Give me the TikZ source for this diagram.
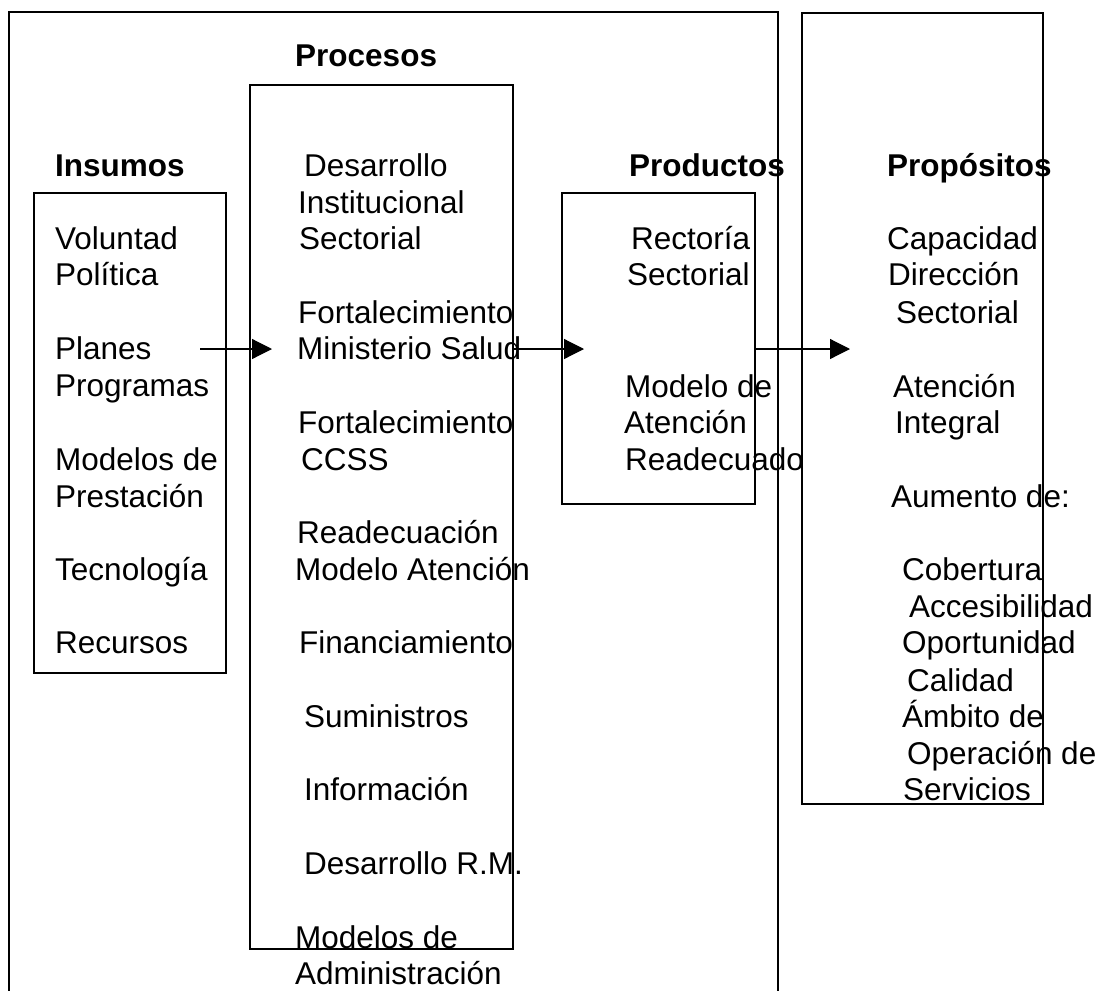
\documentclass[tikz,border=0pt]{standalone}
\usepackage{fontspec}
\setmainfont{Liberation Sans}
\usetikzlibrary{arrows.meta}
\begin{document}
\begin{tikzpicture}[x=1pt,y=-1pt,
  frame/.style={draw, line width=1.8pt, inner sep=0pt, anchor=north west},
  item/.style={anchor=base west, inner sep=0pt, font=\fontsize{31.5}{36.6}\selectfont},
  head/.style={item, font=\fontsize{31.5}{36.6}\selectfont\bfseries},
  flow/.style={line width=1.2pt, -{Triangle[length=20pt,width=20pt]}}]
\useasboundingbox[fill=white] (0,0) rectangle (1101,991);

% open outer frame around inputs, processes and products
\draw[line width=1.8pt] (9,991) -- (9,12) -- (778,12) -- (778,991);

% column boxes
\node[frame, minimum width=192pt, minimum height=480pt] (insbox)  at (33,192) {};
\node[frame, minimum width=263pt, minimum height=864pt] (procbox) at (249,84) {};
\node[frame, minimum width=193pt, minimum height=311pt] (prodbox) at (561,192) {};
\node[frame, minimum width=241pt, minimum height=791pt] (propbox) at (801,12) {};

% headings
\node[head] (hproc) at (295,66)  {Procesos};
\node[head] (hins)  at (55,176)  {Insumos};
\node[head] (hprod) at (629,176) {Productos};
\node[head] (hprop) at (887,176) {Propósitos};

% inputs
\foreach \x/\y/\t [count=\i] in {
  55/249/Voluntad, 55/285/Política, 55/359/Planes, 55/396/Programas,
  55/470/Modelos de, 55/507/Prestación, 55/580/Tecnología, 55/653/Recursos}
  \node[item] (ins\i) at (\x,\y) {\t};

% processes
\foreach \x/\y/\t [count=\i] in {
  304/176/Desarrollo, 298/213/Institucional, 299/249/Sectorial,
  298/323/Fortalecimiento, 297/359/Ministerio Salud,
  298/433/Fortalecimiento, 301/470/CCSS,
  297/543/Readecuación, 295/580/Modelo Atención,
  299/653/Financiamiento, 304/727/Suministros, 304/800/Información,
  304/874/Desarrollo R.M., 295/948/Modelos de, 295/984/Administración}
  \node[item] (proc\i) at (\x,\y) {\t};

% products
\foreach \x/\y/\t [count=\i] in {
  631/249/Rectoría, 627/285/Sectorial,
  625/397/Modelo de, 624/433/Atención, 625/470/Readecuado}
  \node[item] (prod\i) at (\x,\y) {\t};

% purposes
\foreach \x/\y/\t [count=\i] in {
  887/249/Capacidad, 888/285/Dirección, 896/323/Sectorial,
  893/397/Atención, 895/433/Integral, 891/507/Aumento de:,
  902/580/Cobertura, 909/617/Accesibilidad, 902/653/Oportunidad,
  907/691/Calidad, 902/727/Ámbito de, 907/764/Operación de,
  903/800/Servicios}
  \node[item] (prop\i) at (\x,\y) {\t};

% flow arrows
\coordinate (a1s) at (200,349);
\coordinate (a1e) at (272,349);
\coordinate (a2e) at (584,349);
\coordinate (a3e) at (850,349);
\draw[flow] (a1s) -- (a1e);
\draw[flow] (procbox.east |- a1s) -- (a2e);
\draw[flow] (prodbox.east |- a1s) -- (a3e);
\end{tikzpicture}
\end{document}
